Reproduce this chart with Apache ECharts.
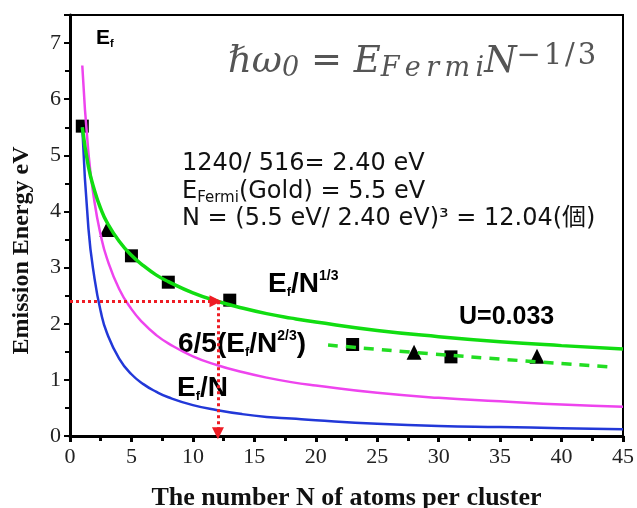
<!DOCTYPE html>
<html>
<head>
<meta charset="utf-8">
<script src="https://cdn.jsdelivr.net/npm/echarts@6/dist/echarts.min.js"></script>
<style>
  html, body { margin: 0; padding: 0; background: #fff; }
  #main { width: 637px; height: 508px; }
</style>
</head>
<body>
<div id="main"></div>
<script>
// 读图得到的数据
const curveN = [1, 1.5, 2, 2.5, 3, 4, 5, 6, 7, 8, 10, 12, 14, 16, 18, 20, 25, 30, 35, 40, 45];
// E_f/N^(1/3)  绿色
const greenVals = [5.5, 4.8, 4.37, 4.05, 3.81, 3.47, 3.22, 3.03, 2.87, 2.75, 2.55, 2.4, 2.28, 2.18, 2.1, 2.03, 1.88, 1.77, 1.68, 1.61, 1.55];
// 6/5(E_f/N^(2/3))  品红
const magentaVals = [6.6, 5.04, 4.16, 3.58, 3.17, 2.62, 2.26, 2.0, 1.8, 1.65, 1.42, 1.26, 1.14, 1.04, 0.96, 0.9, 0.77, 0.68, 0.62, 0.56, 0.52];
// E_f/N  蓝色
const blueVals = [5.5, 3.7, 2.8, 2.22, 1.84, 1.38, 1.1, 0.92, 0.79, 0.69, 0.55, 0.46, 0.39, 0.34, 0.31, 0.28, 0.22, 0.18, 0.16, 0.14, 0.12];
// U=0.033 虚线
const dashN = [21, 28, 35, 44];
const dashVals = [1.62, 1.49, 1.37, 1.23];
// 实验点
const squareN = [1, 5, 8, 13, 23, 31];
const squareVals = [5.52, 3.21, 2.74, 2.42, 1.63, 1.41];
const triN = [3, 28, 38];
const triVals = [3.68, 1.49, 1.42];
// 红色辅助线
const guideE = 2.4;
const guideN = 12.04;

const zip = (xs, ys) => xs.map((x, i) => [x, ys[i]]);

const myChart = echarts.init(document.getElementById('main'));

const tickFont = { fontFamily: 'Liberation Serif', fontSize: 22, color: '#222' };
const titleFont = { fontFamily: 'Liberation Serif', fontWeight: 'bold', color: '#111' };

// 粗体标签的 rich 样式
const labelRich = {
  b: { font: 'bold 28px "Liberation Sans"', fill: '#000', lineHeight: 30 },
  s: { font: 'bold 13px "Liberation Sans"', fill: '#000', lineHeight: 13, verticalAlign: 'bottom' },
  p: { font: 'bold 14px "Liberation Sans"', fill: '#000', lineHeight: 12, verticalAlign: 'top' }
};
const thin = '\u2009';
const hair = '\u200A';

const option = {
  animation: false,
  grid: {
    left: 70, right: 14, top: 15, bottom: 72,
    outerBoundsMode: 'none',
    show: true, borderColor: '#000', borderWidth: 2
  },
  xAxis: {
    type: 'value', min: 0, max: 45, interval: 5,
    name: 'The number N of atoms per cluster',
    nameLocation: 'middle', nameGap: 49,
    nameTextStyle: Object.assign({ fontSize: 26 }, titleFont),
    axisLine: { lineStyle: { color: '#000', width: 3 } },
    axisTick: { length: 6, lineStyle: { color: '#000', width: 3 } },
    minorTick: { show: true, splitNumber: 2, length: 5, lineStyle: { color: '#000', width: 3 } },
    axisLabel: Object.assign({ margin: 10 }, tickFont),
    splitLine: { show: false }
  },
  yAxis: {
    type: 'value', min: 0, max: 7.5, interval: 1,
    name: 'Emission Energy eV',
    nameLocation: 'middle', nameGap: 36,
    nameTextStyle: Object.assign({ fontSize: 24, padding: [0, 50, 0, 0] }, titleFont),
    axisLine: { lineStyle: { color: '#000', width: 3 } },
    axisTick: { length: 6, lineStyle: { color: '#000', width: 2 } },
    minorTick: { show: true, splitNumber: 2, length: 5, lineStyle: { color: '#000', width: 2 } },
    axisLabel: Object.assign({ margin: 9, showMaxLabel: false }, tickFont),
    splitLine: { show: false }
  },
  series: [
    {
      name: 'magenta', type: 'line', smooth: true, showSymbol: false,
      data: zip(curveN, magentaVals),
      lineStyle: { color: '#ee44ee', width: 2.5 }
    },
    {
      name: 'blue', type: 'line', smooth: true, showSymbol: false,
      data: zip(curveN, blueVals),
      lineStyle: { color: '#2238d8', width: 2.5 },
      markLine: {
        silent: true,
        symbol: ['none', 'triangle'],
        symbolSize: [12, 12],
        label: { show: false },
        lineStyle: { color: '#ee1c24', width: 3, type: [3, 3] },
        data: [
          [{ coord: [0, guideE] }, { coord: [guideN - 0.2, guideE] }],
          [{ coord: [guideN, guideE] }, { coord: [guideN, 0.05] }]
        ]
      }
    },
    {
      name: 'green', type: 'line', smooth: true, showSymbol: false,
      data: zip(curveN, greenVals),
      lineStyle: { color: '#11dd11', width: 3.5 }
    },
    {
      name: 'dash', type: 'line', smooth: true, showSymbol: false,
      data: zip(dashN, dashVals),
      lineStyle: { color: '#22dd22', width: 3.5, type: [10, 8] }
    },
    {
      name: 'squares', type: 'scatter', symbol: 'rect', symbolSize: 13,
      data: zip(squareN, squareVals),
      itemStyle: { color: '#000', opacity: 1 }
    },
    {
      name: 'triangles', type: 'scatter', symbol: 'triangle', symbolSize: 15,
      data: zip(triN, triVals),
      itemStyle: { color: '#000', opacity: 1 }
    }
  ],
  graphic: [
    {
      type: 'text', left: 96, top: 28,
      style: {
        text: '{b|E}{s|f}',
        rich: {
          b: { font: 'bold 21px "Liberation Sans"', fill: '#000', lineHeight: 22 },
          s: { font: 'bold 11px "Liberation Sans"', fill: '#000', lineHeight: 10, verticalAlign: 'bottom' }
        }
      }
    },
    {
      type: 'text', left: 228, top: 42,
      style: {
        text: '{i|ℏω}{s|0}{r| = }{i|E}{s|' + ['F', 'e', 'r', 'm', 'i'].join(thin) + '}{i|N}{p|' + ['−', '1', '/', '3'].join(hair) + '}',
        rich: {
          i: { font: 'italic 37px "DejaVu Serif"', fill: '#555', lineHeight: 40 },
          r: { font: '37px "DejaVu Serif"', fill: '#555', lineHeight: 40 },
          s: { font: 'italic 27px "DejaVu Serif"', fill: '#555', lineHeight: 16, verticalAlign: 'bottom' },
          p: { font: '29px "DejaVu Serif"', fill: '#555', lineHeight: 8, verticalAlign: 'top' }
        }
      }
    },
    {
      type: 'text', left: 182, top: 152,
      style: {
        text: '{t|1240/ 516= 2.40 eV}\n{t|E}{s|Fermi}{t|(Gold) = 5.5 eV}\n{t|N = (5.5 eV/ 2.40 eV)³ = 12.04(個)}',
        rich: {
          t: { font: '24px "DejaVu Sans", "Noto Sans CJK JP"', fill: '#111', lineHeight: 27.5 },
          s: { font: '15px "DejaVu Sans"', fill: '#111', lineHeight: 14, verticalAlign: 'bottom' }
        }
      }
    },
    {
      type: 'text', left: 268, top: 269,
      style: { text: '{b|E}{s|f}{b|/N}{p|1/3}', rich: labelRich }
    },
    {
      type: 'text', left: 178, top: 329,
      style: { text: '{b|6/5(E}{s|f}{b|/N}{p|2/3}{b|)}', rich: labelRich }
    },
    {
      type: 'text', left: 177, top: 374,
      style: { text: '{b|E}{s|f}{b|/N}', rich: labelRich }
    },
    {
      type: 'text', left: 459, top: 304,
      style: { text: 'U=0.033', font: 'bold 25px "Liberation Sans"', fill: '#000', lineHeight: 26 }
    }
  ]
};

myChart.setOption(option);
</script>
</body>
</html>
